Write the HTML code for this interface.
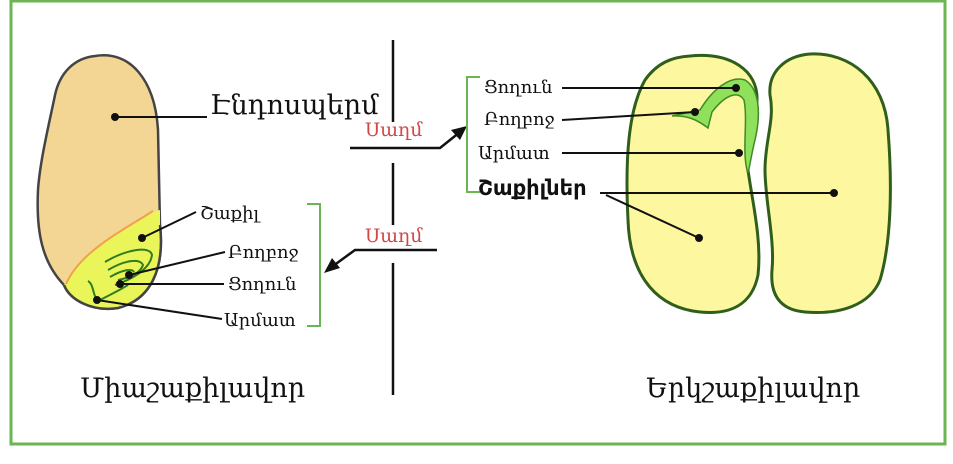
<!DOCTYPE html>
<html><head><meta charset="utf-8"><style>
html,body{margin:0;padding:0;background:#fff;}
svg{display:block;}
.t{font-family:"DejaVu Serif","Liberation Serif",serif;fill:#111;}
</style></head><body>
<svg width="953" height="464" viewBox="0 0 953 464" xmlns="http://www.w3.org/2000/svg">
<rect x="11" y="1" width="934" height="443" fill="#fff" stroke="#6bb652" stroke-width="3"/>
<!-- left seed -->
<path d="M95 56 C130 50 155 80 158 130 L160 225 C165 270 150 300 118 308 C92 312 70 300 64 285 C42 262 36 232 38 190 C40 160 50 120 55 95 C60 72 75 58 95 56 Z" fill="#f3d594" stroke="#444" stroke-width="2.5"/>
<path d="M64 285 C80 250 120 230 152 212 L160 210 L160 225 C165 270 150 300 118 308 C92 312 70 300 64 285 Z" fill="#eaf55a"/>
<path d="M160 225 C165 270 150 300 118 308 C92 312 70 300 64 285" fill="none" stroke="#444" stroke-width="2.5"/>
<path d="M66 284 C80 252 120 232 153 211" fill="none" stroke="#f0a050" stroke-width="2"/>
<g fill="none" stroke="#2f7d1e" stroke-width="2">
<path d="M105 262 C125 250 150 245 152 255 C150 270 130 280 115 285"/>
<path d="M108 270 C125 260 140 258 143 265 C140 274 128 278 118 280"/>
<path d="M110 277 C122 270 132 268 134 272"/>
<path d="M88 281 C95 285 92 300 100 300 C110 295 120 290 128 285"/>
</g>
<g stroke="#111" stroke-width="2" fill="#111">
<line x1="115" y1="117" x2="207" y2="117"/><circle cx="115" cy="117" r="3"/>
<line x1="142" y1="238" x2="196" y2="212"/><circle cx="142" cy="238" r="3"/>
<line x1="129" y1="275" x2="225" y2="252"/><circle cx="129" cy="275" r="3"/>
<line x1="120" y1="284" x2="224" y2="284"/><circle cx="120" cy="284" r="3"/>
<line x1="97" y1="300" x2="222" y2="319"/><circle cx="97" cy="300" r="3"/>
</g>
<text class="t" x="210" y="114" font-size="27">Էնդոսպերմ</text>
<text class="t" x="200" y="219" font-size="18">Շաքիլ</text>
<text class="t" x="228" y="258" font-size="18">Բողբոջ</text>
<text class="t" x="228" y="290" font-size="18">Ցողուն</text>
<text class="t" x="224" y="326" font-size="18">Արմատ</text>
<path d="M307 204 H320 V326 H307" fill="none" stroke="#6bb652" stroke-width="2"/>
<!-- center -->
<g stroke="#111" stroke-width="2.5" fill="none">
<line x1="393" y1="40" x2="393" y2="122"/>
<line x1="393" y1="163" x2="393" y2="225"/>
<line x1="393" y1="263" x2="393" y2="395"/>
<polyline points="350,148 440,148 460,132"/>
<polyline points="437,250 355,250 333,266"/>
</g>
<polygon points="467,126 451,130 460,140" fill="#111"/>
<polygon points="324,273 332,258 340,268" fill="#111"/>
<text class="t" x="365" y="136" font-size="19" style="fill:#d04848">Սաղմ</text>
<text class="t" x="365" y="242" font-size="19" style="fill:#d04848">Սաղմ</text>
<path d="M480 77 H467 V192 H480" fill="none" stroke="#6bb652" stroke-width="2"/>
<!-- right seeds -->
<path d="M690 56 C730 52 758 70 757 100 C756 130 745 150 748 170 C752 200 762 240 758 275 C752 305 730 315 700 312 C660 308 630 280 628 220 C625 160 628 110 645 80 C657 63 672 57 690 56 Z" fill="#fdf7a0" stroke="#2f5f1a" stroke-width="3"/>
<path d="M810 54 C850 52 885 80 888 130 C892 180 892 240 880 280 C870 305 840 315 805 312 C780 310 770 295 772 270 C775 240 765 200 765 170 C765 140 775 120 770 95 C768 72 785 56 810 54 Z" fill="#fdf7a0" stroke="#2f5f1a" stroke-width="3"/>
<path d="M700 110 C712 90 730 75 745 80 C758 88 762 110 755 140 C750 160 748 180 747 170 C742 150 748 120 744 100 C738 90 725 95 712 112 L708 128 C700 122 690 115 672 116 Z" fill="#8fe05a" stroke="#3f8a25" stroke-width="1.5"/>
<g stroke="#111" stroke-width="2" fill="#111">
<line x1="562" y1="88" x2="736" y2="88"/><circle cx="736" cy="88" r="3"/>
<line x1="562" y1="120" x2="695" y2="112"/><circle cx="695" cy="112" r="3"/>
<line x1="562" y1="153" x2="739" y2="153"/><circle cx="739" cy="153" r="3"/>
<line x1="600" y1="193" x2="834" y2="193"/><circle cx="834" cy="193" r="3"/>
<line x1="606" y1="195" x2="699" y2="238"/><circle cx="699" cy="238" r="3"/>
</g>
<text class="t" x="484" y="93" font-size="18">Ցողուն</text>
<text class="t" x="484" y="125" font-size="18">Բողբոջ</text>
<text class="t" x="478" y="159" font-size="18">Արմատ</text>
<text x="478" y="195" font-size="21" font-weight="bold" font-family="DejaVu Sans, Liberation Sans, sans-serif" fill="#111">Շաքիլներ</text>
<text class="t" x="80" y="397" font-size="27">Միաշաքիլավոր</text>
<text class="t" x="646" y="397" font-size="27">Երկշաքիլավոր</text>
</svg>
</body></html>
